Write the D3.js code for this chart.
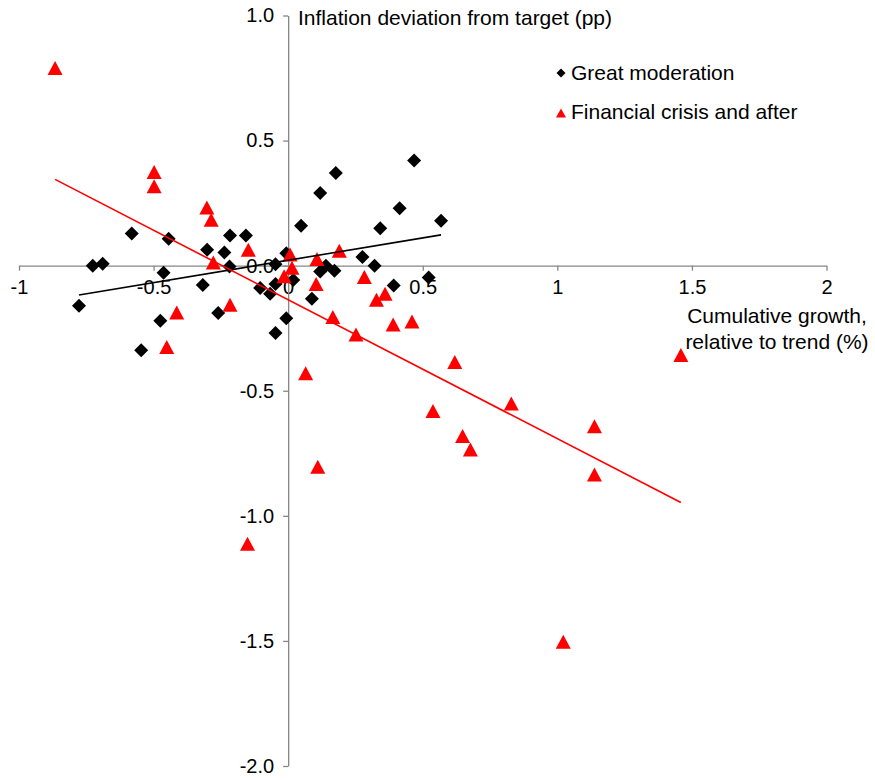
<!DOCTYPE html>
<html>
<head>
<meta charset="utf-8">
<script src="https://cdn.jsdelivr.net/npm/d3@7"></script>
<style>
  body { margin: 0; background: #fff; }
  svg { font-family: "Liberation Sans", Arial, sans-serif; }
</style>
</head>
<body>
<div id="chart"></div>
<script>
// Great moderation (x: cumulative growth, y: inflation deviation)
const gmX = [-0.777, -0.726, -0.689, -0.581, -0.444, -0.463, -0.475, -0.546, -0.317, -0.301,
  -0.260, -0.237, -0.216, -0.157, -0.218, -0.104, -0.067, -0.047, -0.047, -0.007,
  0.019, -0.007, -0.047, 0.048, 0.119, 0.177, 0.468, 0.414, 0.342, 0.568,
  0.276, 0.321, 0.522, 0.392, 0.140, 0.119, 0.172, 0.088];
const gmY = [-0.16, 0.0, 0.008, 0.129, 0.108, -0.028, -0.22, -0.338, -0.077, 0.064,
  -0.189, 0.053, 0.121, 0.121, -0.003, -0.089, -0.112, -0.073, 0.006, 0.05,
  -0.057, -0.21, -0.269, 0.16, 0.29, 0.37, 0.42, 0.23, 0.15, 0.18,
  0.035, 0.0, -0.047, -0.079, 0.0, -0.023, -0.02, -0.132];

// Financial crisis and after
const fcX = [-0.866, -0.498, -0.498, -0.302, -0.286, -0.148, -0.278, -0.414, -0.216, -0.451,
  0.007, 0.014, -0.015, 0.107, 0.104, 0.19, 0.283, 0.36, 0.328, 0.166,
  0.252, 0.39, 0.46, 0.065, 0.619, 0.538, 0.829, 0.648, 0.677, 1.138,
  1.138, 0.110, -0.151, 1.022, 1.459];
const fcY = [0.79, 0.374, 0.317, 0.233, 0.184, 0.064, 0.013, -0.187, -0.156, -0.325,
  0.045, -0.008, -0.042, 0.027, -0.073, 0.06, -0.045, -0.112, -0.136, -0.205,
  -0.275, -0.235, -0.223, -0.43, -0.385, -0.581, -0.551, -0.681, -0.735, -0.642,
  -0.835, -0.804, -1.112, -1.503, -0.357];

const xTicks = [-1, -0.5, 0, 0.5, 1, 1.5, 2];
const yTicks = [-2, -1.5, -1, -0.5, 0, 0.5, 1];
const seriesNames = ["Great moderation", "Financial crisis and after"];

const W = 875, H = 780;
const axisColor = "#868686";

const svg = d3.select("#chart")
  .append("svg")
  .attr("width", W)
  .attr("height", H);

const x = d3.scaleLinear().domain([-1, 2]).range([19, 826.5]);
const y = d3.scaleLinear().domain([-2, 1]).range([766, 15.5]);

// plain hyphen for negatives, like the original
const fmt1 = d3.format(".1f");

// axes crossing at zero
const xAxis = svg.append("g")
  .attr("transform", `translate(0,${y(0)})`)
  .call(d3.axisBottom(x).tickValues(xTicks).tickSize(5).tickSizeOuter(0).tickPadding(9)
    .tickFormat(d => String(d)));
xAxis.selectAll("text").style("font-size", "20px").attr("fill", "#000");

const yAxis = svg.append("g")
  .attr("transform", `translate(${x(0)},0)`)
  .call(d3.axisLeft(y).tickValues(yTicks).tickSize(5).tickSizeOuter(0).tickPadding(9)
    .tickFormat(d => fmt1(d).replace("\u2212", "-")));
yAxis.selectAll("text").style("font-size", "20px").attr("fill", "#000");

svg.selectAll(".domain, .tick line").attr("stroke", axisColor).attr("stroke-width", 1.3);

// marker shapes
function diamond(s) {
  const h = s / 2;
  return `M0,${-h}L${h},0L0,${h}L${-h},0Z`;
}
function triangle(w, h) {
  return `M0,${-h / 2}L${w / 2},${h / 2}L${-w / 2},${h / 2}Z`;
}

const gm = gmX.map((v, i) => ({ x: v, y: gmY[i] }));
const fc = fcX.map((v, i) => ({ x: v, y: fcY[i] }));

svg.append("g").selectAll("path")
  .data(gm)
  .enter()
  .append("path")
  .attr("transform", d => `translate(${x(d.x)},${y(d.y)})`)
  .attr("d", diamond(14))
  .attr("fill", "#000");

svg.append("g").selectAll("path")
  .data(fc)
  .enter()
  .append("path")
  .attr("transform", d => `translate(${x(d.x)},${y(d.y)})`)
  .attr("d", triangle(15, 14))
  .attr("fill", "#ff0000");

// linear trend lines (least squares)
function fit(pts) {
  const mx = d3.mean(pts, d => d.x), my = d3.mean(pts, d => d.y);
  const b = d3.sum(pts, d => (d.x - mx) * (d.y - my)) / d3.sum(pts, d => (d.x - mx) ** 2);
  const a = my - b * mx;
  const [x0, x1] = d3.extent(pts, d => d.x);
  return [{ x: x0, y: a + b * x0 }, { x: x1, y: a + b * x1 }];
}
const line = d3.line().x(d => x(d.x)).y(d => y(d.y));

svg.append("path").datum(fit(gm))
  .attr("d", line).attr("stroke", "#000").attr("stroke-width", 1.6).attr("fill", "none");
svg.append("path").datum(fit(fc))
  .attr("d", line).attr("stroke", "#ff0000").attr("stroke-width", 1.6).attr("fill", "none");

// axis titles
svg.append("text")
  .attr("x", 298).attr("y", 25)
  .style("font-size", "21px")
  .text("Inflation deviation from target (pp)");

const xt = svg.append("text")
  .attr("text-anchor", "middle")
  .style("font-size", "21px");
xt.append("tspan").attr("x", 777).attr("y", 323).text("Cumulative growth,");
xt.append("tspan").attr("x", 777).attr("y", 349).text("relative to trend (%)");

// legend
const legend = svg.append("g");
legend.append("path")
  .attr("transform", "translate(561,73)")
  .attr("d", diamond(9)).attr("fill", "#000");
legend.append("text")
  .attr("x", 571).attr("y", 80)
  .style("font-size", "21px").text(seriesNames[0]);
legend.append("path")
  .attr("transform", "translate(561,113)")
  .attr("d", triangle(10, 9)).attr("fill", "#ff0000");
legend.append("text")
  .attr("x", 571).attr("y", 119)
  .style("font-size", "21px").text(seriesNames[1]);
</script>
</body>
</html>
